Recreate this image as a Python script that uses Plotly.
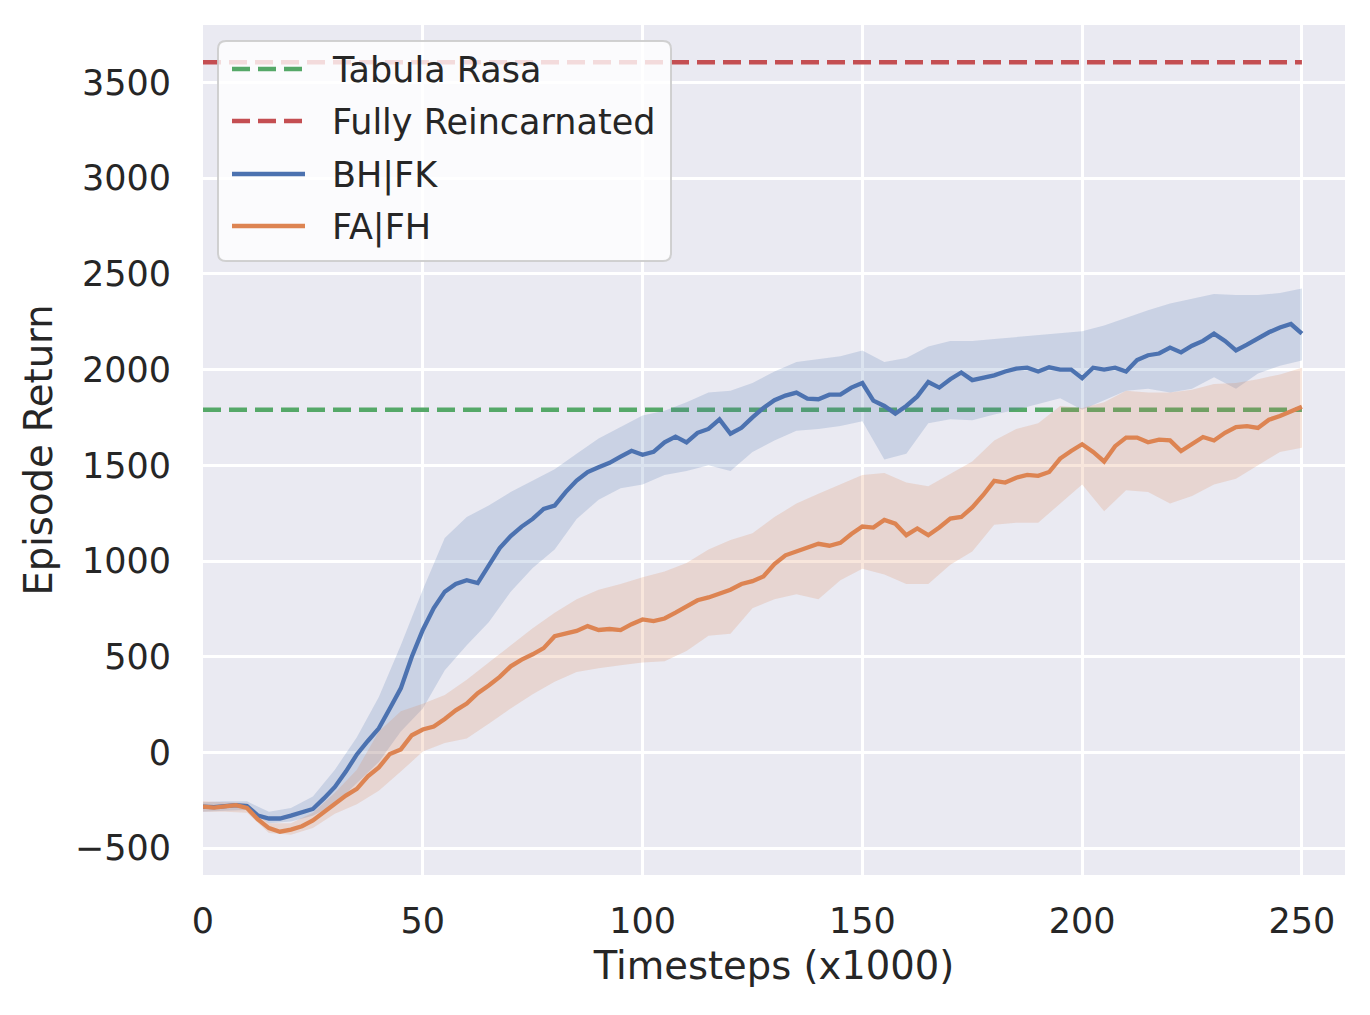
import plotly.graph_objects as go

# ---------------- data ----------------
steps = [i * 2.5 for i in range(101)]  # timesteps (x1000)

bhfk_mean = [-283, -285, -280, -275, -280, -330, -345, -345, -330, -315,
             -295, -240, -180, -100, -10, 60, 126, 230, 335, 500,
             640, 754, 840, 880, 900, 885, 980, 1068, 1130, 1180,
             1220, 1272, 1290, 1360, 1420, 1465, 1490, 1513, 1545, 1576,
             1555, 1570, 1620, 1650, 1620, 1670, 1690, 1740, 1665, 1696,
             1750, 1800, 1840, 1864, 1880, 1848, 1845, 1869, 1869, 1906,
             1930, 1838, 1810, 1770, 1810, 1860, 1935, 1906, 1950, 1985,
             1945, 1955, 1970, 1990, 2005, 2010, 1990, 2012, 2000, 2000,
             1955, 2010, 2000, 2010, 1990, 2050, 2075, 2084, 2115, 2090,
             2125, 2150, 2188, 2150, 2100, 2130, 2165, 2195, 2220, 2238,
             2188]

fafh_mean = [-283, -288, -282, -275, -290, -350, -395, -414, -403, -385,
             -355, -310, -265, -225, -190, -125, -78, -8, 16, 90,
             120, 135, 175, 220, 255, 310, 350, 395, 450, 485,
             513, 545, 607, 620, 635, 660, 640, 645, 639, 670,
             695, 686, 700, 730, 760, 795, 810, 830, 850, 880,
             895, 920, 984, 1030, 1050, 1075, 1090, 1080, 1095, 1141,
             1180, 1175, 1215, 1195, 1135, 1170, 1135, 1175, 1222, 1230,
             1280, 1345, 1419, 1410, 1435, 1450, 1445, 1465, 1535, 1575,
             1610, 1570, 1520, 1600, 1645, 1645, 1620, 1634, 1630, 1575,
             1610, 1648, 1630, 1670, 1700, 1705, 1695, 1738, 1758, 1780,
             1806]

band_steps = [i * 5 for i in range(51)]

bhfk_upper = [-260, -255, -255, -310, -290, -230, -90, 80, 290, 560,
              850, 1120, 1230, 1290, 1360, 1419, 1480, 1560, 1640, 1700,
              1760, 1785, 1830, 1880, 1890, 1930, 1990, 2040, 2055, 2070,
              2100, 2040, 2060, 2120, 2150, 2150, 2160, 2170, 2180, 2190,
              2200, 2230, 2270, 2310, 2345, 2370, 2395, 2390, 2390, 2400,
              2424]
bhfk_lower = [-310, -305, -300, -370, -360, -330, -270, -160, -50, 110,
              230, 430, 560, 680, 840, 963, 1060, 1220, 1320, 1380,
              1400, 1450, 1470, 1500, 1470, 1570, 1630, 1680, 1690, 1705,
              1730, 1530, 1560, 1720, 1740, 1735, 1765, 1790, 1820, 1850,
              1790, 1840, 1890, 1900, 1880, 1900, 1960, 1900, 1980, 2020,
              2047]

fafh_upper = [-255, -260, -265, -370, -370, -315, -210, -90, 110, 215,
              255, 300, 380, 470, 560, 649, 730, 800, 850, 880,
              915, 945, 990, 1060, 1110, 1145, 1230, 1300, 1351, 1400,
              1450, 1460, 1410, 1390, 1455, 1520, 1630, 1690, 1720, 1810,
              1800, 1830, 1890, 1880, 1880, 1895, 1925, 1930, 1950, 1975,
              2010]
fafh_lower = [-310, -310, -315, -420, -430, -395, -320, -270, -200, -100,
              5, 50, 73, 150, 230, 304, 370, 420, 440, 455,
              470, 476, 530, 610, 620, 754, 800, 827, 800, 900,
              960, 930, 880, 880, 980, 1050, 1190, 1200, 1200, 1300,
              1400, 1260, 1370, 1360, 1300, 1340, 1400, 1430, 1500, 1570,
              1592]

tabula_rasa = 1790
fully_reincarnated = 3605
hline_x = [0, 250]

x_ticks = [0, 50, 100, 150, 200, 250]
y_ticks = [-500, 0, 500, 1000, 1500, 2000, 2500, 3000, 3500]
y_ticktext = ["\u2212500", "0", "500", "1000", "1500", "2000", "2500", "3000", "3500"]

series_names = ["Tabula Rasa", "Fully Reincarnated", "BH|FK", "FA|FH"]

# ---------------- style ----------------
BLUE = "#4C72B0"
ORANGE = "#DD8452"
GREEN = "#55A868"
RED = "#C44E52"
TXT = "#262626"
FONT = "DejaVu Sans"
FS = 35
FS_TITLE = 38.5

W, H = 1354, 999
ML, MR, MT, MB = 195, 17, 17, 132

fig = go.Figure()

# horizontal reference lines
fig.add_trace(go.Scatter(x=hline_x, y=[tabula_rasa] * 2, mode="lines",
                         line=dict(color=GREEN, width=4.5, dash="18px,8px"),
                         name=series_names[0], showlegend=False))
fig.add_trace(go.Scatter(x=hline_x, y=[fully_reincarnated] * 2, mode="lines",
                         line=dict(color=RED, width=4.5, dash="18px,8px"),
                         name=series_names[1], showlegend=False))

# bands
fig.add_trace(go.Scatter(x=band_steps + band_steps[::-1],
                         y=bhfk_upper + bhfk_lower[::-1],
                         fill="toself", fillcolor="rgba(76,114,176,0.2)",
                         line=dict(width=0), mode="lines", hoverinfo="skip",
                         showlegend=False))
fig.add_trace(go.Scatter(x=band_steps + band_steps[::-1],
                         y=fafh_upper + fafh_lower[::-1],
                         fill="toself", fillcolor="rgba(221,132,82,0.2)",
                         line=dict(width=0), mode="lines", hoverinfo="skip",
                         showlegend=False))

# means
fig.add_trace(go.Scatter(x=steps, y=bhfk_mean, mode="lines",
                         line=dict(color=BLUE, width=4.3),
                         name=series_names[2], showlegend=False))
fig.add_trace(go.Scatter(x=steps, y=fafh_mean, mode="lines",
                         line=dict(color=ORANGE, width=4.3),
                         name=series_names[3], showlegend=False))

# ---------------- manual legend (layout, paper coords) ----------------
PX0, PX1 = ML, W - MR
PY0, PY1 = MT, H - MB


def px(xp):
    return (xp - PX0) / (PX1 - PX0)


def py(yp):
    return (PY1 - yp) / (PY1 - PY0)


off = 8  # page offset of figure
bx0, bx1, by0, by1 = 218 - off, 671 - off, 41 - off, 261 - off
r = 8
path = (f"M {px(bx0 + r)} {py(by0)} L {px(bx1 - r)} {py(by0)} "
        f"Q {px(bx1)} {py(by0)} {px(bx1)} {py(by0 + r)} "
        f"L {px(bx1)} {py(by1 - r)} Q {px(bx1)} {py(by1)} {px(bx1 - r)} {py(by1)} "
        f"L {px(bx0 + r)} {py(by1)} Q {px(bx0)} {py(by1)} {px(bx0)} {py(by1 - r)} "
        f"L {px(bx0)} {py(by0 + r)} Q {px(bx0)} {py(by0)} {px(bx0 + r)} {py(by0)} Z")
shapes = [dict(type="path", xref="paper", yref="paper", path=path,
               fillcolor="rgba(255,255,255,0.8)",
               line=dict(color="rgba(204,204,204,0.9)", width=2), layer="above")]

rows_y = [69, 121, 174, 226]
row_styles = [(GREEN, "18px,8px"), (RED, "18px,8px"), (BLUE, "solid"), (ORANGE, "solid")]
annotations = []
for name, ry, (col, dash) in zip(series_names, rows_y, row_styles):
    shapes.append(dict(type="line", xref="paper", yref="paper",
                       x0=px(232 - off), x1=px(305 - off), y0=py(ry - off), y1=py(ry - off),
                       line=dict(color=col, width=4.5, dash=dash), layer="above"))
    annotations.append(dict(xref="paper", yref="paper", x=px(330 - off), y=py(ry - off + 1),
                            xanchor="left", yanchor="middle", text=name, showarrow=False,
                            font=dict(family=FONT, size=FS, color=TXT)))

fig.update_layout(
    width=W, height=H,
    margin=dict(l=ML, r=MR, t=MT, b=MB),
    paper_bgcolor="white",
    plot_bgcolor="#EAEAF2",
    font=dict(family=FONT, size=FS, color=TXT),
    showlegend=False,
    shapes=shapes,
    annotations=annotations,
)
fig.update_xaxes(range=[0, 259.8], tickvals=x_ticks, showgrid=True, gridcolor="white",
                 gridwidth=3, zeroline=False, showline=False, ticks="",
                 ticklabelstandoff=22,
                 title=dict(text="Timesteps (x1000)", font=dict(family=FONT, size=FS_TITLE, color=TXT),
                            standoff=12))
fig.update_yaxes(range=[-640, 3800], tickvals=y_ticks, ticktext=y_ticktext, showgrid=True,
                 gridcolor="white", gridwidth=3, zeroline=False, showline=False, ticks="",
                 ticklabelstandoff=31,
                 title=dict(text="Episode Return", font=dict(family=FONT, size=FS_TITLE, color=TXT),
                            standoff=10))

fig.write_html("out.html")
